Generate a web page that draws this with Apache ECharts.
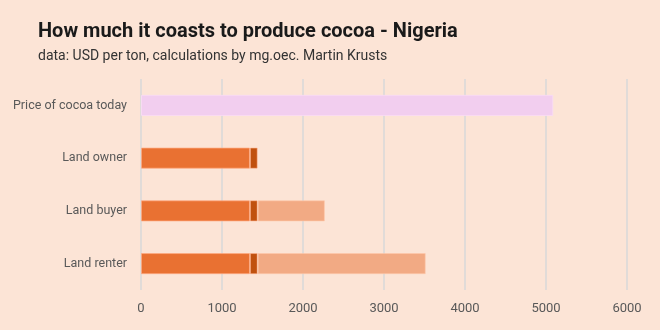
<!DOCTYPE html>
<html><head><meta charset="utf-8">
<script src="https://cdn.jsdelivr.net/npm/echarts@6/dist/echarts.min.js"></script>
<style>html,body{margin:0;padding:0;background:#FCE4D6;}#c{width:660px;height:330px;}</style>
</head><body><div id="c"></div>
<script>
const categories = ['Land renter', 'Land buyer', 'Land owner', 'Price of cocoa today'];
const baseCost = [1345, 1345, 1345, null];
const extraCost = [95, 95, 95, null];
const landCost = [2075, 830, null, null];
const cocoaPrice = [null, null, null, 5090];
const xTicks = [0, 1000, 2000, 3000, 4000, 5000, 6000];

const chart = echarts.init(document.getElementById('c'));
const seg = (name, data, color, border) => ({
  name, type: 'bar', stack: 'a', data, barWidth: '40%',
  itemStyle: { color, borderColor: border, borderWidth: 1 },
  silent: true
});
chart.setOption({
  backgroundColor: '#FCE4D6',
  animation: false,
  title: {
    text: 'How much it coasts to produce cocoa - Nigeria',
    subtext: 'data: USD per ton, calculations by mg.oec. Martin Krusts',
    left: 33, top: 17, itemGap: 7,
    textStyle: { fontFamily: 'Roboto', fontSize: 20, fontWeight: 'bold', color: '#1a1a1a' },
    subtextStyle: { fontFamily: 'Roboto', fontSize: 14, color: '#333333' }
  },
  grid: { left: 141, right: 33, top: 79, bottom: 40 },
  xAxis: {
    type: 'value', min: xTicks[0], max: xTicks[xTicks.length - 1], interval: 1000,
    axisLine: { show: false }, axisTick: { show: false },
    splitLine: { lineStyle: { color: '#D9D9D9', width: 1.5 } },
    axisLabel: { color: '#595959', fontSize: 13, fontFamily: 'Roboto', margin: 12, formatter: v => String(v) }
  },
  yAxis: {
    type: 'category', data: categories,
    axisLine: { show: false }, axisTick: { show: false },
    axisLabel: { color: '#595959', fontSize: 12.5, fontFamily: 'Roboto', margin: 14 }
  },
  series: [
    seg('Production cost', baseCost, '#E97132', 'rgba(255,170,130,0.7)'),
    seg('Other cost', extraCost, '#C0510F', 'rgba(255,170,130,0.5)'),
    seg('Land cost', landCost, '#F2AA84', 'rgba(255,200,170,0.6)'),
    seg('Price', cocoaPrice, '#F2CEEF', 'rgba(250,220,245,0.8)')
  ]
});
</script></body></html>
